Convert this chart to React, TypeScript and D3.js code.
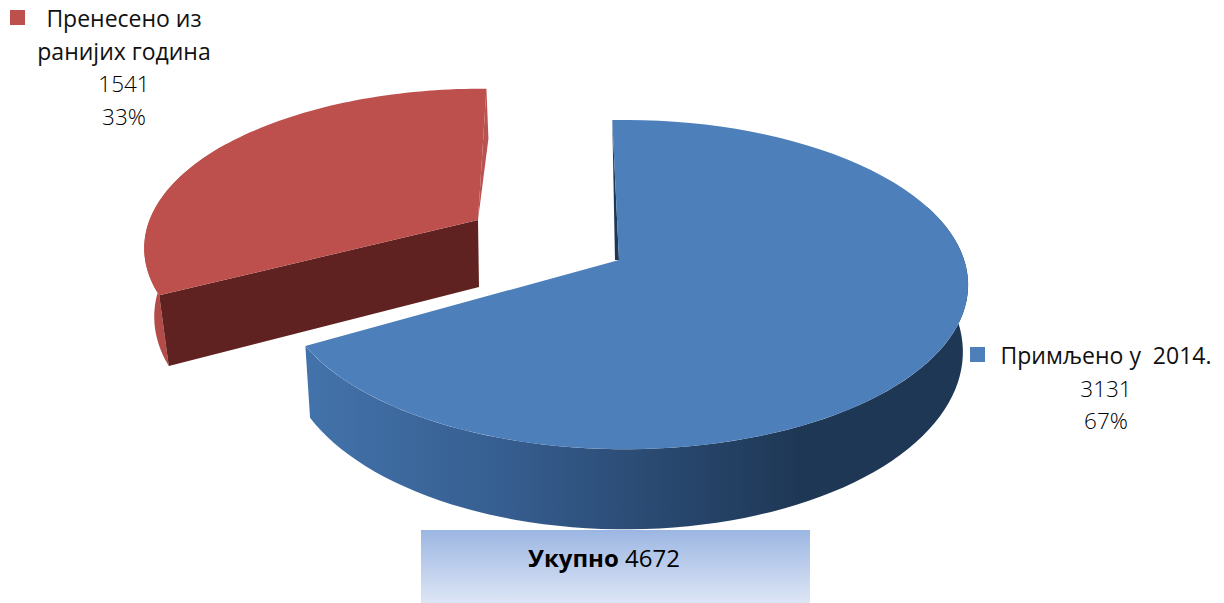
import React from 'react';
import * as d3 from 'd3';

const width = 1224;
const height = 603;

// values
const labels = ['Примљено у  2014.', 'Пренесено из ранијих година'];
const values = [3131, 1541];
const colors = ['#4d7fbb', '#bd504c'];

const total = d3.sum(values);
const rad = (deg: number) => (deg * Math.PI) / 180;

// the slices are exploded, so every one has its own centre and perspective
const blue = { cx: 619, cy: 260, rx: 340, ry: 161, k: 0.149, m: -0.015, spin: 0, depth: 65, sx: 0.985, sy: 1.08 };
const red = { cx: 478, cy: 220, rx: 335, ry: 155, k: 0.18, m: -0.02, spin: rad(3), depth: 67, sx: 0.97, sy: 1.05 };

const project = (g: any, a: number, bottom = false): [number, number] => {
  const X = Math.sin(a + g.spin);
  const Y = -Math.cos(a + g.spin);
  const w = 1 - g.k * Y + g.m * X;
  return [
    g.cx + (g.rx * (bottom ? g.sx : 1) * X) / w,
    g.cy + (bottom ? g.depth : 0) + (g.ry * (bottom ? g.sy : 1) * Y) / w,
  ];
};

const arcs = d3.pie<number>().sort(null).startAngle(rad(-1.3)).endAngle(rad(358.7))(values);
const line = d3.line();

const samples = (a0: number, a1: number) => d3.range(0, 81).map((i) => a0 + ((a1 - a0) * i) / 80);

const facePath = (g: any, a0: number, a1: number) =>
  line([[g.cx, g.cy], ...samples(a0, a1).map((a) => project(g, a))]) + 'Z';

const wallPath = (g: any, a0: number, a1: number) => {
  const angles = samples(a0, a1);
  return (
    line([
      ...angles.map((a) => project(g, a)),
      ...angles.slice().reverse().map((a) => project(g, a, true)),
    ]) + 'Z'
  );
};

const blueArc = arcs[0];
const redArc = arcs[1];
const blueCorner = project(blue, blueArc.startAngle);
const redCorner = project(red, redArc.endAngle);
const redLeft = project(red, redArc.startAngle);
const redLeftLow = project(red, redArc.startAngle, true);

const pct = (v: number) => `${Math.round((v / total) * 100)}%`;
const font = { fontFamily: '"Open Sans", sans-serif', fontSize: 23, fill: '#111' };
const numberFont = { fontSize: 22.5, fontWeight: 300, fill: '#000' };

const App = () => {
  return (
    <svg width={width} height={height} style={{ position: 'absolute', left: 0, top: 0, background: '#fff' }}>
      <defs>
        <linearGradient id="blueWall" gradientUnits="userSpaceOnUse" x1="305" x2="800" y1="0" y2="0">
          <stop offset="0" stopColor="#4373ab" />
          <stop offset="0.4" stopColor="#365e90" />
          <stop offset="0.7" stopColor="#2a4a72" />
          <stop offset="1" stopColor="#1e3755" />
        </linearGradient>
        <linearGradient id="totalBox" x1="0" x2="0" y1="0" y2="1">
          <stop offset="0" stopColor="#9cb6e3" />
          <stop offset="1" stopColor="#dde6f5" />
        </linearGradient>
      </defs>

      {/* red slice */}
      <path d={wallPath(red, redArc.startAngle, rad(300))} fill="#b34c49" />
      <path
        d={line([redCorner, [redCorner[0] + 2, redCorner[1] + 50], [red.cx, red.cy]]) + 'Z'}
        fill="#b85350"
      />
      <path
        d={line([[red.cx, red.cy], redLeft, redLeftLow, [red.cx + 1, red.cy + red.depth]]) + 'Z'}
        fill="#602220"
      />
      <path d={facePath(red, redArc.startAngle, redArc.endAngle)} fill={colors[1]} />

      {/* blue slice */}
      <path d={wallPath(blue, rad(70), blueArc.endAngle)} fill="url(#blueWall)" />
      <path
        d={line([blueCorner, [blue.cx, blue.cy], [blue.cx - 4, blue.cy]]) + 'Z'}
        fill="#1e3755"
      />
      <path d={facePath(blue, blueArc.startAngle, blueArc.endAngle)} fill={colors[0]} />

      {/* labels */}
      <rect x={10} y={10} width={15} height={15} fill={colors[1]} />
      <g {...font} textAnchor="middle">
        <text x={124} y={27}>Пренесено из</text>
        <text x={124} y={60}>ранијих година</text>
        <text x={124} y={92} {...numberFont}>{values[1]}</text>
        <text x={124} y={125} {...numberFont}>{pct(values[1])}</text>
      </g>
      <rect x={970} y={347} width={15} height={15} fill={colors[0]} />
      <g {...font} textAnchor="middle">
        <text x={1106} y={364} xmlSpace="preserve">{labels[0]}</text>
        <text x={1106} y={397} {...numberFont}>{values[0]}</text>
        <text x={1106} y={429} {...numberFont}>{pct(values[0])}</text>
      </g>

      {/* total */}
      <rect x={421} y={530} width={389} height={73} fill="url(#totalBox)" />
      <text {...font} fontSize={24} fill="#000" x={604} y={567} textAnchor="middle">
        <tspan fontWeight={700}>Укупно</tspan> {total}
      </text>
    </svg>
  );
};

export default App;
